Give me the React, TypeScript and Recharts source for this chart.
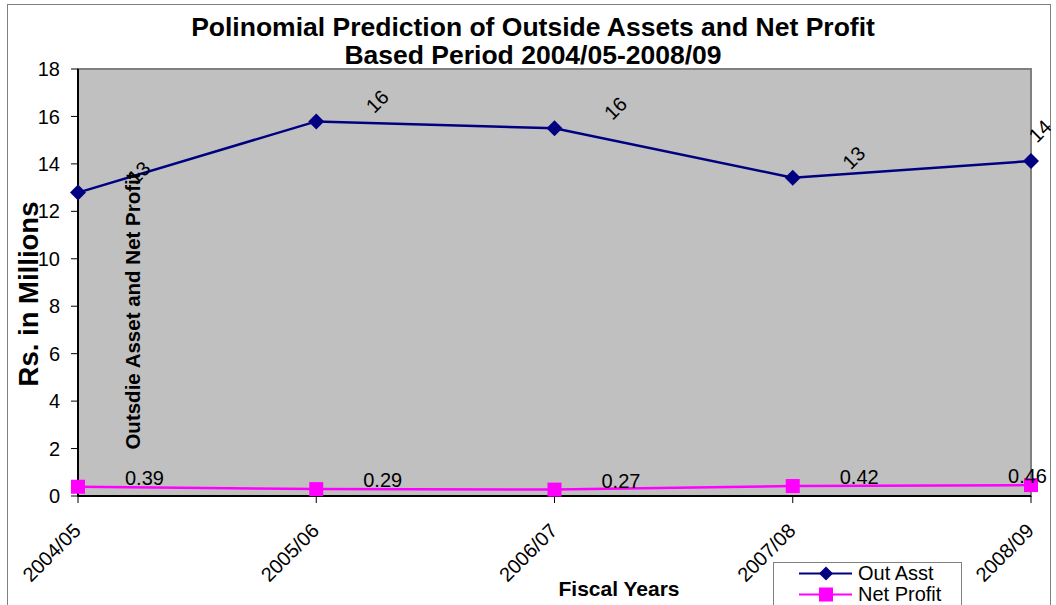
import React from "react";
import {
  LineChart,
  Line,
  XAxis,
  YAxis,
  ReferenceArea,
  LabelList,
  Legend,
} from "recharts";

const years = ["2004/05", "2005/06", "2006/07", "2007/08", "2008/09"];
const outAsst = [12.79, 15.79, 15.5, 13.42, 14.12];
const netProfit = [0.39, 0.29, 0.27, 0.42, 0.46];
const yTicks = [0, 2, 4, 6, 8, 10, 12, 14, 16, 18];

const data = years.map((year, i) => ({
  year,
  outAsst: outAsst[i],
  netProfit: netProfit[i],
}));

const FONT = '"Liberation Sans", Arial, sans-serif';
const NAVY = "#000080";
const MAGENTA = "#FF00FF";

function Diamond(props: any) {
  const { cx, cy } = props;
  if (cx == null || cy == null) return null;
  const s = 8;
  return (
    <polygon
      points={`${cx},${cy - s} ${cx + s},${cy} ${cx},${cy + s} ${cx - s},${cy}`}
      fill={NAVY}
    />
  );
}

function Square(props: any) {
  const { cx, cy } = props;
  if (cx == null || cy == null) return null;
  return <rect x={cx - 7} y={cy - 7} width={14} height={14} fill={MAGENTA} />;
}

function AsstLabel(props: any) {
  const { x, y, value } = props;
  let lx = x + 61;
  let ly = y - 20;
  if (lx > 1045) {
    lx = x + 9;
    ly = y - 30;
  }
  return (
    <text
      x={lx}
      y={ly}
      transform={`rotate(-45 ${lx} ${ly})`}
      textAnchor="middle"
      dominantBaseline="central"
      fontSize={20}
      fontFamily={FONT}
      fill="#000"
    >
      {Math.round(value)}
    </text>
  );
}

function ProfitLabel(props: any) {
  const { x, y, value } = props;
  const text = Number(value).toFixed(2);
  let lx = x + 47;
  let anchor: "start" | "end" = "start";
  if (lx + 42 > 1050) {
    lx = 1047;
    anchor = "end";
  }
  return (
    <text x={lx} y={y - 2} textAnchor={anchor} fontSize={20} fontFamily={FONT} fill="#000">
      {text}
    </text>
  );
}

function XTick(props: any) {
  const { x, y, payload } = props;
  const tx = x + 4;
  const ty = y + 27;
  return (
    <text
      x={tx}
      y={ty}
      transform={`rotate(-45 ${tx} ${ty})`}
      textAnchor="end"
      fontSize={20}
      fontFamily={FONT}
      fill="#000"
    >
      {payload.value}
    </text>
  );
}

function LegendBox() {
  const rows = [
    { name: "Out Asst", color: NAVY, shape: "diamond" },
    { name: "Net Profit", color: MAGENTA, shape: "square" },
  ];
  return (
    <div
      style={{
        width: 189,
        height: 52,
        border: "1px solid #808080",
        background: "#fff",
        fontFamily: FONT,
        fontSize: 20,
        boxSizing: "border-box",
      }}
    >
      {rows.map((r) => (
        <div key={r.name} style={{ display: "flex", alignItems: "center", height: 21 }}>
          <svg width={84} height={21} style={{ flex: "none" }}>
            <line x1={25} y1={10.5} x2={78} y2={10.5} stroke={r.color} strokeWidth={2} />
            {r.shape === "diamond" ? (
              <polygon points="52,3.5 59,10.5 52,17.5 45,10.5" fill={r.color} />
            ) : (
              <rect x={45} y={3.5} width={14} height={14} fill={r.color} />
            )}
          </svg>
          <span style={{ lineHeight: "21px" }}>{r.name}</span>
        </div>
      ))}
    </div>
  );
}

export default function App() {
  return (
    <div
      style={{
        position: "absolute",
        left: 0,
        top: 0,
        width: 1056,
        height: 605,
        overflow: "hidden",
        background: "#fff",
        fontFamily: FONT,
      }}
    >
      <div
        style={{
          position: "absolute",
          left: 7,
          top: 4,
          width: 1044,
          height: 640,
          border: "1px solid #808080",
          boxSizing: "border-box",
        }}
      />
      <LineChart
        width={1056}
        height={605}
        data={data}
        margin={{ top: 69, right: 25, bottom: 29, left: 18 }}
      >
        <ReferenceArea
          x1="2004/05"
          x2="2008/09"
          y1={0}
          y2={18}
          fill="#C0C0C0"
          fillOpacity={1}
          stroke="#808080"
          strokeWidth={2}
        />
        <XAxis
          dataKey="year"
          height={80}
          axisLine={{ stroke: "#000", strokeWidth: 2 }}
          tickLine={{ stroke: "#000" }}
          tickSize={7}
          tick={<XTick />}
          interval={0}
        />
        <YAxis
          width={60}
          domain={[0, 18]}
          ticks={yTicks}
          axisLine={{ stroke: "#000", strokeWidth: 2 }}
          tickLine={{ stroke: "#000" }}
          tickSize={7}
          tickMargin={11}
          tick={{ fill: "#000", fontSize: 20, fontFamily: FONT }}
          interval={0}
        />
        <Line
          dataKey="outAsst"
          name="Out Asst"
          stroke={NAVY}
          strokeWidth={2.5}
          dot={<Diamond />}
          isAnimationActive={false}
        >
          <LabelList dataKey="outAsst" content={<AsstLabel />} />
        </Line>
        <Line
          dataKey="netProfit"
          name="Net Profit"
          stroke={MAGENTA}
          strokeWidth={2.5}
          dot={<Square />}
          isAnimationActive={false}
        >
          <LabelList dataKey="netProfit" content={<ProfitLabel />} />
        </Line>
        <Legend
          layout="horizontal"
          verticalAlign="middle"
          align="center"
          content={() => <LegendBox />}
          wrapperStyle={{ left: 773, top: 562, width: 189, height: 52 }}
        />
      </LineChart>

      <div
        style={{
          position: "absolute",
          left: 0,
          top: 13,
          width: 1066,
          textAlign: "center",
          fontWeight: "bold",
          fontSize: 26.5,
          lineHeight: "28px",
        }}
      >
        Polinomial Prediction of Outside Assets and Net Profit
        <br />
        Based Period 2004/05-2008/09
      </div>

      <div
        style={{
          position: "absolute",
          left: 29,
          top: 294,
          transform: "translate(-50%, -50%) rotate(-90deg)",
          whiteSpace: "nowrap",
          fontWeight: "bold",
          fontSize: 27.5,
        }}
      >
        Rs. in Millions
      </div>

      <div
        style={{
          position: "absolute",
          left: 133,
          top: 311,
          transform: "translate(-50%, -50%) rotate(-90deg)",
          whiteSpace: "nowrap",
          fontWeight: "bold",
          fontSize: 20.5,
        }}
      >
        Outsdie Asset and Net Profit
      </div>

      <div
        style={{
          position: "absolute",
          left: 619,
          top: 589,
          transform: "translate(-50%, -50%)",
          whiteSpace: "nowrap",
          fontWeight: "bold",
          fontSize: 21,
        }}
      >
        Fiscal Years
      </div>
    </div>
  );
}
